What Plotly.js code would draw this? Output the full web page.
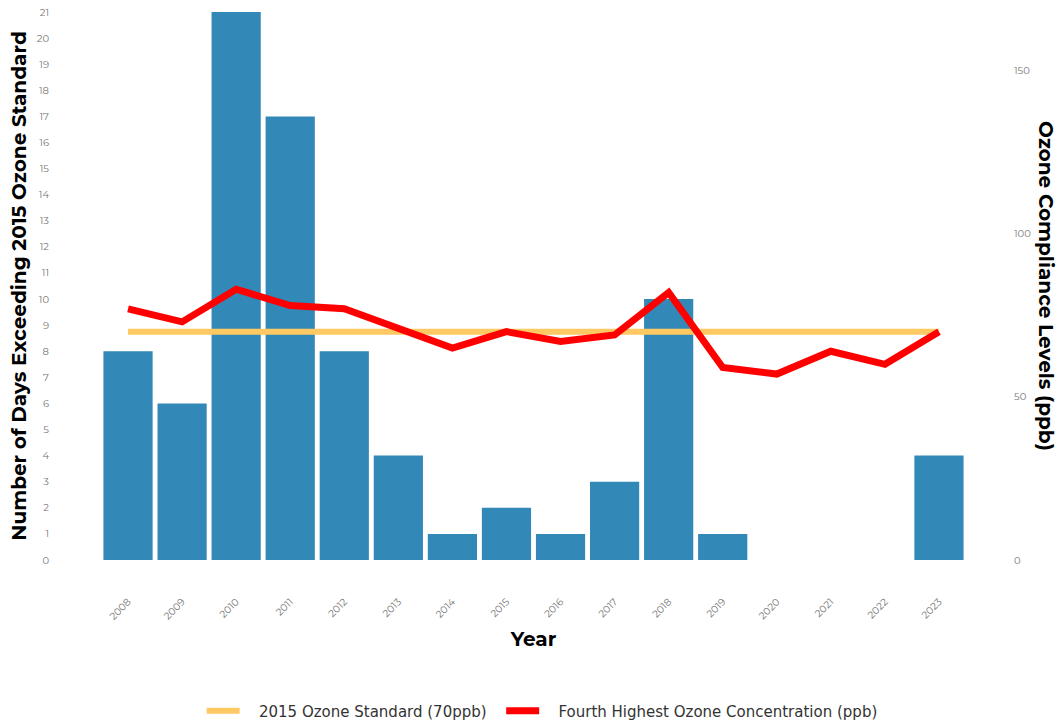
<!DOCTYPE html>
<html>
<head>
<meta charset="utf-8">
<script src="https://cdn.plot.ly/plotly-3.0.1.min.js"></script>
<style>html,body{margin:0;padding:0;background:#fff;}#chart{width:1060px;height:725px;}</style>
</head>
<body>
<div id="chart"></div>
<script>
const years = ["2008","2009","2010","2011","2012","2013","2014","2015","2016","2017","2018","2019","2020","2021","2022","2023"];
const daysExceeding = [8,6,21,17,8,4,1,2,1,3,10,1,0,0,0,4];
const standard2015 = [70,70,70,70,70,70,70,70,70,70,70,70,70,70,70,70];
const fourthHighest = [77,73,83,78,77,71,65,70,67,69,82,59,57,64,60,70];
const leftTicks = [0,1,2,3,4,5,6,7,8,9,10,11,12,13,14,15,16,17,18,19,20,21];
const rightTicks = [0,50,100,150];

const FONT = "Montserrat, 'Open Sans', sans-serif";
const LEGFONT = "'DejaVu Sans', sans-serif";
const NB = '\u00a0';

const traces = [
  {
    type: 'bar', x: years, y: daysExceeding, name: 'Number of Days Exceeding 2015 Ozone Standard',
    marker: {color: '#3288b6'}, showlegend: false, yaxis: 'y'
  },
  {
    type: 'scatter', mode: 'lines', x: years, y: standard2015, name: NB+NB+NB+'2015 Ozone Standard (70ppb)'+NB+NB,
    line: {color: '#fec962', width: 6}, yaxis: 'y2'
  },
  {
    type: 'scatter', mode: 'lines', x: years, y: fourthHighest, name: NB+NB+NB+'Fourth Highest Ozone Concentration (ppb)',
    line: {color: '#ff0000', width: 7}, yaxis: 'y2'
  }
];

const layout = {
  width: 1060, height: 725,
  margin: {l: 101, r: 94, t: 12, b: 165, autoexpand: false},
  paper_bgcolor: '#ffffff', plot_bgcolor: '#ffffff',
  font: {family: FONT, color: '#333'},
  bargap: 0.09,
  showlegend: true,
  legend: {orientation: 'h', x: 0.51, xanchor: 'center', y: 0.0193, yref: 'container', yanchor: 'middle',
           font: {size: 15, color: '#333', family: LEGFONT}, itemwidth: 33},
  xaxis: {
    type: 'category', tickangle: -45, showgrid: false, zeroline: false, showline: false,
    tickfont: {size: 10, color: '#777'}, ticklabelstandoff: 33,
    title: {text: 'Year', font: {size: 20, color: '#000', family: FONT, weight: 'bold'}, standoff: 10}
  },
  yaxis: {
    range: [0, 21], tickvals: leftTicks, showgrid: false, zeroline: false, showline: false,
    tickfont: {size: 10, color: '#777'}, ticklabelstandoff: 51,
    title: {text: 'Number of Days Exceeding 2015 Ozone Standard', font: {size: 20, color: '#000', family: FONT, weight: 'bold'}, standoff: 4}
  },
  yaxis2: {
    overlaying: 'y', side: 'right', range: [0, 168], tickvals: rightTicks, showgrid: false, zeroline: false, showline: false,
    tickfont: {size: 10, color: '#777'}, ticklabelstandoff: 47
  },
  annotations: [{
    text: 'Ozone Compliance Levels (ppb)', xref: 'paper', yref: 'paper', x: 1.0, xshift: 80, xanchor: 'center', y: 0.5, yanchor: 'middle',
    textangle: 90, showarrow: false, font: {size: 20, color: '#000', family: FONT, weight: 'bold'}
  }]
};

Plotly.newPlot('chart', traces, layout, {displayModeBar: false, responsive: false});
</script>
</body>
</html>
